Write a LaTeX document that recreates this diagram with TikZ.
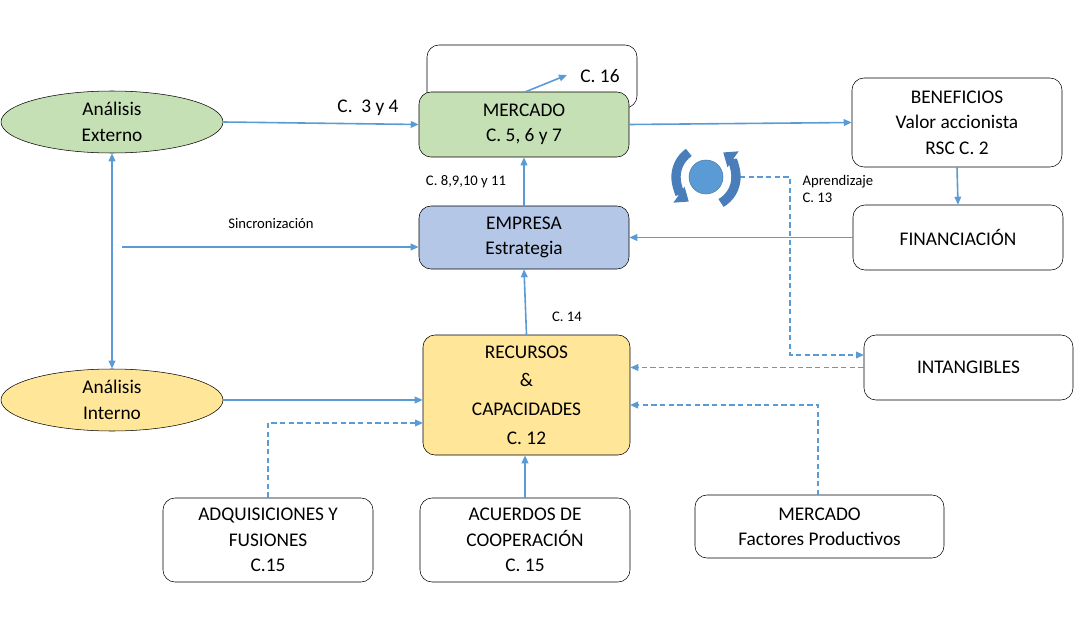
\documentclass[tikz,border=0pt]{standalone}
\usepackage{fontspec}
\setmainfont{Carlito}
\usetikzlibrary{arrows.meta,shapes.geometric}
\definecolor{ln}{HTML}{5B9BD5}
\definecolor{gf}{HTML}{C5E0B4}
\definecolor{yf}{HTML}{FFE699}
\definecolor{bf}{HTML}{B4C7E7}
\definecolor{ic}{HTML}{4A7EBB}
\begin{document}
\begin{tikzpicture}[x=0.75pt,y=-0.75pt,
 bx/.style={draw=black,rounded corners=9pt,align=center,font=\fontsize{14.5}{19}\selectfont,inner sep=0pt},
 el/.style={draw=black,ellipse,align=center,font=\fontsize{14.5}{19}\selectfont,minimum width=222*0.75pt,minimum height=62*0.75pt,inner sep=0pt},
 ar/.style={draw=ln,line width=1.2pt,-{Triangle[length=6pt,width=5pt]}},
 da/.style={ar,dashed,dash pattern=on 4pt off 2.5pt},
 sm/.style={font=\fontsize{11}{13}\selectfont,inner sep=1pt}]
\useasboundingbox (0,0) rectangle (1074,642);
\node[el,fill=gf] (ext) at (112,122) {Análisis\\Externo};
\node[el,fill=yf] (int) at (112,400) {Análisis\\Interno};
\node[bx,minimum width=210*0.75pt,minimum height=63*0.75pt] (c16) at (532,76.5) {};
\node[bx,fill=gf,minimum width=210*0.75pt,minimum height=65*0.75pt] (mer) at (524,124.5) {MERCADO\\C. 5, 6 y 7};
\node[bx,fill=bf,minimum width=210*0.75pt,minimum height=63*0.75pt] (emp) at (524,237.5) {EMPRESA\\Estrategia};
\node[bx,fill=yf,minimum width=207*0.75pt,minimum height=120*0.75pt,font=\fontsize{14.5}{21.5}\selectfont] (rc) at (526.5,395) {RECURSOS\\\&\\CAPACIDADES\\C. 12};
\node[bx,minimum width=210*0.75pt,minimum height=89*0.75pt] (ben) at (957,122.5) {BENEFICIOS\\Valor accionista\\RSC C. 2};
\node[bx,minimum width=210*0.75pt,minimum height=65*0.75pt] (fin) at (958,237.5) {FINANCIACIÓN};
\node[bx,minimum width=209*0.75pt,minimum height=65*0.75pt] (intg) at (968.5,367.5) {INTANGIBLES};
\node[bx,minimum width=210*0.75pt,minimum height=84*0.75pt] (adq) at (268,540) {ADQUISICIONES Y\\FUSIONES\\C.15};
\node[bx,minimum width=210*0.75pt,minimum height=84*0.75pt] (acu) at (525,540) {ACUERDOS DE\\COOPERACIÓN\\C. 15};
\node[bx,minimum width=249*0.75pt,minimum height=63*0.75pt] (mfp) at (819.5,526.5) {MERCADO\\Factores Productivos};
% labels
\node[font=\fontsize{14.5}{17}\selectfont] (l34) at (368,108) {C.\ \ 3 y 4};
\node[font=\fontsize{14.5}{17}\selectfont] (l16) at (600,76) {C. 16};
\node[sm] (l8) at (466,182) {C. 8,9,10 y 11};
\node[sm] (lsy) at (271,224) {Sincronización};
\node[sm] (l14) at (567,317) {C. 14};
\node[sm,align=left,anchor=west] (lap) at (801,189) {Aprendizaje\\C. 13};
% connectors
\draw[ar] (ext.east) -- (mer.west);
\draw[ar] (mer.east) -- (ben.west);
\coordinate (m16) at (525,92);
\coordinate (t16) at (567,75);
\draw[ar] (m16) -- (t16);
\draw[ar] (emp.north) -- (mer.south);
\draw[ar] (ben.south) -- (fin.north);
\draw[ar] (fin.west) -- (emp.east);
\coordinate (sy) at (122,247);
\draw[ar] (sy) -- (sy-|emp.west);
\draw[draw=ln,line width=1.2pt,{Triangle[length=6pt,width=5pt]}-{Triangle[length=6pt,width=5pt]}] (ext.south) -- (int.north);
\draw[ar] (rc.north) -- (emp.south);
\draw[ar] (int.east) -- (int.east-|rc.west);
\draw[ar] (acu.north) -- (acu.north|-rc.south);
\draw[da] (adq.north) |- (268,423) -- (423,423);
\draw[da] (818,495) |- (630,405);
\draw[da] (intg.west) -- (intg.west-|rc.east);
% cycle icon
\node[circle,fill=ln,draw=ln!80!black,minimum size=34*0.75pt,inner sep=0pt] (cyc) at (706,177) {};
\draw[da] (cyc.east) ++(8,0) -- (790,177) |- (864,355);
\draw[ic,line width=7pt,-{Triangle[length=9pt,width=14pt]}] (706,177) ++(235:30) arc (235:125:30);
\draw[ic,line width=7pt,-{Triangle[length=9pt,width=14pt]}] (706,177) ++(60:30) arc (60:-55:30);
\end{tikzpicture}
\end{document}
